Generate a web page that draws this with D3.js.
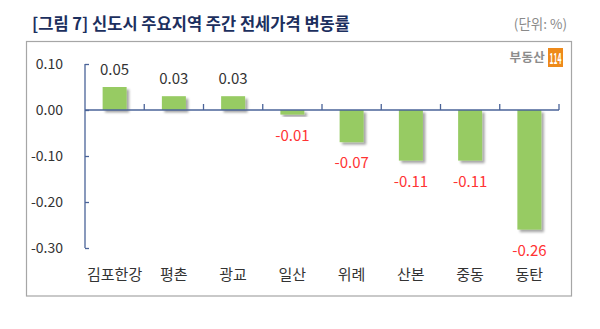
<!DOCTYPE html>
<html>
<head>
<meta charset="utf-8">
<script src="https://cdn.jsdelivr.net/npm/d3@7"></script>
<style>
  html, body { margin: 0; padding: 0; background: #fff; }
  svg { display: block; }
  text { font-family: "Noto Sans CJK KR", "Noto Sans", sans-serif; }
</style>
</head>
<body>
<svg id="chart" width="600" height="329"></svg>
<script>
// Weekly jeonse price change by new-town district (%)
const categories = ["김포한강", "평촌", "광교", "일산", "위례", "산본", "중동", "동탄"];
const values = [0.05, 0.03, 0.03, -0.01, -0.07, -0.11, -0.11, -0.26];
const yTicks = [0.10, 0.00, -0.10, -0.20, -0.30];

// two decimals, plain hyphen for negatives
const fmt = v => d3.format(".2f")(v).replace("\u2212", "-");

const svg = d3.select("#chart");

// drop shadow for bars
const defs = svg.append("defs");
const f = defs.append("filter").attr("id", "shadow")
  .attr("x", "-20%").attr("y", "-20%").attr("width", "160%").attr("height", "160%");
f.append("feDropShadow").attr("dx", 2.5).attr("dy", 2.5).attr("stdDeviation", 1.2)
  .attr("flood-color", "#000").attr("flood-opacity", 0.35);

// title
svg.append("text").attr("x", 32).attr("y", 30)
  .attr("font-size", 16.5).attr("font-weight", "bold").attr("fill", "#1c2f5e")
  .text("[그림 7] 신도시 주요지역 주간 전세가격 변동률");
svg.append("text").attr("x", 567).attr("y", 29).attr("text-anchor", "end")
  .attr("font-size", 13.5).attr("fill", "#8a8a8a")
  .text("(단위: %)");

// frame
svg.append("rect").attr("x", 26.5).attr("y", 41.5).attr("width", 545).attr("height", 254.5)
  .attr("fill", "none").attr("stroke", "#a6a6a6").attr("stroke-width", 1.2);

// logo
const logo = svg.append("g");
logo.append("text").attr("x", 545).attr("y", 62).attr("text-anchor", "end")
  .attr("font-size", 12.5).attr("font-weight", "bold").attr("fill", "#8c8c8c")
  .attr("letter-spacing", 0.3).text("부동산");
logo.append("rect").attr("x", 548).attr("y", 48).attr("width", 15).attr("height", 19)
  .attr("fill", "#ee8a1a");
logo.append("text").attr("x", 549.5).attr("y", 63.5)
  .attr("font-size", 15).attr("font-weight", "bold").attr("fill", "#fff")
  .attr("textLength", 12).attr("lengthAdjust", "spacingAndGlyphs").text("114");

// scales
const xb = d3.scaleBand().domain(categories).range([85, 559]);
const y = d3.scaleLinear().domain([-0.30, 0.10]).range([248, 64]);

const axisColor = "#4a6398";
const barW = 24;

// bars
svg.append("g").selectAll("rect").data(values).join("rect")
  .attr("x", (d, i) => xb(categories[i]) + xb.bandwidth() / 2 - barW / 2)
  .attr("width", barW)
  .attr("y", d => y(Math.max(0, d)))
  .attr("height", d => Math.abs(y(d) - y(0)))
  .attr("fill", "#97cb63")
  .attr("filter", "url(#shadow)");

// y axis
const yAxis = d3.axisRight(y).tickValues(yTicks).tickSize(4).tickFormat("");
const gy = svg.append("g").attr("transform", "translate(85,0)").call(yAxis);
gy.select(".domain").attr("stroke", axisColor).attr("stroke-width", 1.3)
  .attr("d", `M0,${y(0.10)}V${y(-0.30)}`);
gy.selectAll(".tick line").attr("stroke", axisColor).attr("stroke-width", 1.3);

svg.append("g").selectAll("text").data(yTicks).join("text")
  .attr("x", 63).attr("y", d => y(d) + 5).attr("text-anchor", "end")
  .attr("font-size", 14).attr("fill", "#333")
  .text(fmt);

// x axis along zero line
const xAxis = d3.axisTop(xb).tickSize(0).tickFormat("");
const gx = svg.append("g").attr("transform", `translate(0,${y(0)})`).call(xAxis);
gx.select(".domain").attr("stroke", axisColor).attr("stroke-width", 1.3)
  .attr("d", `M85,0H559`);
gx.selectAll(".tick").remove();
svg.append("g").selectAll("line").data(categories).join("line")
  .attr("x1", d => xb(d) + xb.bandwidth()).attr("x2", d => xb(d) + xb.bandwidth())
  .attr("y1", y(0)).attr("y2", y(0) - 6)
  .attr("stroke", axisColor).attr("stroke-width", 1.3);

// category labels
svg.append("g").selectAll("text").data(categories).join("text")
  .attr("x", d => xb(d) + xb.bandwidth() / 2).attr("y", 280)
  .attr("text-anchor", "middle").attr("font-size", 15).attr("fill", "#333")
  .text(d => d);

// value labels
svg.append("g").selectAll("text").data(values).join("text")
  .attr("x", (d, i) => xb(categories[i]) + xb.bandwidth() / 2)
  .attr("y", d => d >= 0 ? y(d) - 12 : y(d) + 26)
  .attr("text-anchor", "middle").attr("font-size", 15)
  .attr("fill", d => d >= 0 ? "#333" : "#ff3333")
  .text(fmt);
</script>
</body>
</html>
